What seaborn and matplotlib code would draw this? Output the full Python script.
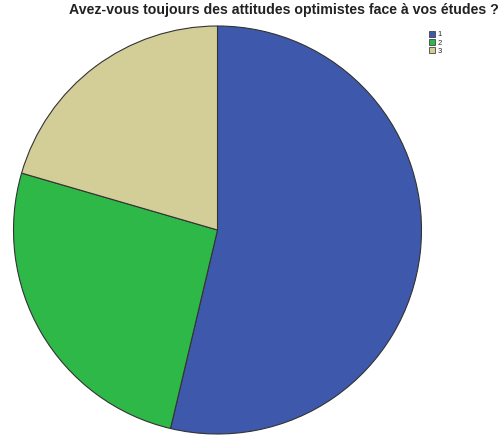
import matplotlib
matplotlib.use("Agg")
import matplotlib.pyplot as plt
import seaborn as sns
from matplotlib.patches import Patch

sns.set_theme(style="white")
plt.rcParams['font.family'] = ['Liberation Sans', 'DejaVu Sans']

categories = ["1", "2", "3"]
values = [53.7, 25.8, 20.5]
colors = ["#3E58AC", "#2EB848", "#D3CE97"]
title = "Avez-vous toujours des attitudes optimistes face à vos études ?"

fig = plt.figure(figsize=(5.01, 4.37), dpi=100)
fig.patch.set_facecolor("white")
ax = fig.add_axes([13.5/501, 3/437, 408/501, 408/437])
ax.pie(values, colors=colors, startangle=90, counterclock=False,
       wedgeprops=dict(edgecolor="#333333", linewidth=0.8), radius=1)
ax.set_xlim(-1.0, 1.0)
ax.set_ylim(-1.0, 1.0)
ax.set_aspect('equal')
ax.axis('off')

fig.text(284/501, 1 - 3/437, title, ha='center', va='top', fontsize=10.2,
         fontweight='bold', color='#222222')

handles = [Patch(facecolor=c, edgecolor='#444444', linewidth=0.6) for c in colors]
fig.legend(handles, categories, loc='upper left', bbox_to_anchor=(424/501, 1 - 26/437),
           frameon=False, fontsize=5.5, handlelength=0.9, handleheight=0.9,
           handletextpad=0.3, labelspacing=0.05, borderpad=0.1)

fig.savefig("out.png", dpi=100)
